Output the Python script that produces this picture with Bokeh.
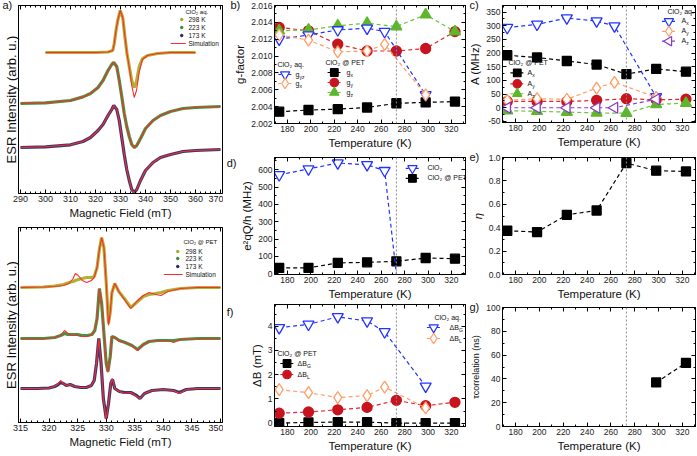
import math
from bokeh.plotting import figure
from bokeh.layouts import row, column
from bokeh.models import (Range1d, SingleIntervalTicker, FixedTicker, LinearAxis, Span,
                          Label, PrintfTickFormatter, Title)
from bokeh.embed import file_html
from bokeh.resources import INLINE

FONT = "Liberation Sans"

# ---------------- panel a data (ESR spectra, arb. units relative to baseline) -------------
f_aq298 = [300, 310, 320, 325, 326.9, 327.5, 328.2, 328.9, 329.9, 330.9, 331.8, 332.6, 333.5,
           334.5, 335.5, 336.4, 337.5, 338.8, 340.8, 344.8, 350, 360]
dat_aq298 = [0, 0, 0, 0.5, 2, 9, 22, 32, 42, 35, 15, -1, -14, -28, -35, -29, -14, -6, -3, -1, 0, 0]
sim_aq298 = [0, 0, 0, 0.5, 2, 9, 22, 32, 42, 35, 15, -1, -15, -33, -45, -38, -19, -7, -3, -1, 0, 0]

f_aqlow = [290, 300, 310, 315, 318, 321, 323, 325, 326.5, 327.3, 328.5, 329.5, 330.5, 331.5,
           332.5, 333.5, 334.5, 335.5, 336.5, 338, 340, 343, 346, 350, 355, 360, 370]
dat_aq223 = [0, 0.6, 3, 6.6, 10, 16, 23, 33, 39, 41, 37, 23, 7, -10, -23, -33, -41, -44, -42,
             -35, -25, -17, -12, -8, -5, -4, -3]
sim_aq223 = [0, 0.6, 3, 6.6, 10, 16, 23, 33, 39, 41, 37, 23, 7, -10, -23, -33, -41, -44.5, -42,
             -35, -25, -17, -12, -8, -5, -4, -3]
dat_aq173 = [0, 0.7, 2.7, 6, 10, 17, 23, 32, 38, 42, 38, 27, 10, -7, -22, -33, -42, -45, -42,
             -33, -23, -15, -10, -7, -4, -3, -2]
sim_aq173 = [0, 0.7, 2.7, 6, 10, 17, 23, 32, 38, 42, 38, 27, 10, -7, -22, -33, -42, -45.5, -42,
             -33, -23, -15, -10, -7, -4, -3, -2]
base_aq = [141, 90, 46]          # vertical stacking of 298 K, 223 K, 173 K

f_pet298 = [315, 319, 321, 322.5, 323.5, 324.2, 324.6, 325.1, 325.8, 326.6, 327.4, 327.9, 328.4,
            328.8, 329.2, 329.6, 330.0, 330.4, 330.7, 331.0, 331.5, 332.2, 333.3, 334.3, 335.5,
            336.5, 337.5, 338.6, 339.6, 340.8, 343, 346, 350]
sim_pet298 = [0, 0.5, 1, 2, 4, 9, 14, 12, 7, 5, 7, 10, 20, 38, 50, 40, 5, -38, -25, -5, 4, -4,
              -13, -21, -13, -8, -5, -7, -8, -4, -1, 0, 0]
dat_pet298 = [0, 0.5, 1.5, 3, 5, 6, 7, 8, 9, 10, 10, 11, 20, 38, 50, 40, 5, -36, -25, -5, 4, -4,
              -12, -20, -14, -9, -7, -6, -5, -3, -1, 0, 0]
f_pet223 = [315, 319, 321, 322, 322.7, 323.3, 324, 325, 325.8, 326.7, 327.5, 328.0, 328.4, 328.8,
            329.2, 329.6, 330.0, 330.3, 330.7, 331.0, 331.5, 332.3, 333.3, 334.5, 335.5, 336.5,
            337.5, 339, 340.8, 341.8, 343, 346, 350]
sim_pet223 = [0, 0, 1, 3, 8, 5, 3, 3, 2, 2, 4, 8, 20, 50, 35, 5, -25, -34, -18, 2, 1, -3, -4, -7,
              -12, -6, -3, -2, -2, -4, -1, 0, 0]
dat_pet223 = [0, 0, 1, 3, 5, 4, 4, 4, 3, 3, 4, 8, 20, 50, 35, 5, -25, -33, -18, 2, 1, -2, -4, -7,
              -11, -6, -3, -2, -2, -2, -1, 0, 0]
f_pet173 = [315, 318, 320, 321, 321.6, 322.0, 322.5, 323.0, 323.7, 324.5, 325.5, 326.5, 327.4,
            327.9, 328.3, 328.7, 329.1, 329.5, 330.0, 330.4, 330.8, 331.1, 331.5, 332.3, 333.2,
            334.3, 335.3, 335.9, 336.7, 338, 340, 341.8, 342.8, 344, 346, 350]
sim_pet173 = [0, 0, 0.5, 2, 5, 8, 5, 3, 4, 2, 1, 1, 3, 8, 25, 50, 25, -10, -31, -15, 5, 10, 0,
              -3, -5, -4, -8, -10, -5, -2, -1, -2, -5, -1, 0, 0]
dat_pet173 = [0, 0, 0.5, 2, 4, 6, 5, 3, 4, 2, 1, 1, 3, 8, 25, 50, 25, -10, -30, -15, 5, 9, 0,
              -3, -4, -4, -7, -10, -5, -2, -1, -2, -4, -1, 0, 0]
base_pet = [135, 84, 34]

temp_labels = ["298 K", "223 K", "173 K"]
temp_colors = ["#a8a820", "#2e8b2e", "#23235e"]

# ---------------- panels b-g data ----------------
T_aq = [173, 198, 223, 248, 263, 298]
T_pet = [173, 198, 223, 248, 273, 298, 323]
T_melt = 273

g_aq_1 = [2.0120, 2.0125, 2.0131, 2.0133, 2.0129, 2.0054]
g_aq_2 = [2.0125, 2.0119, 2.0105, 2.0106, 2.0114, 2.0054]
g_pet_x = [2.0034, 2.0036, 2.0037, 2.0039, 2.0044, 2.0045, 2.0046]
g_pet_y = [2.0134, 2.0130, 2.0114, 2.0106, 2.0106, 2.0109, 2.0129]
g_pet_z = [2.0130, 2.0131, 2.0136, 2.0139, 2.0135, 2.0149, 2.0129]

A_aq_x = [293, 305, 328, 317, 299, 40]
A_aq_y = [27, 33, 31, 72, 93, 38]
A_aq_z = [0, 0, 0, 0, 0, 31]
A_pet_x = [192, 184, 171, 158, 123, 142, 132]
A_pet_y = [23, 23, 23, 27, 33, 29, 31]
A_pet_z = [-11, -13, -16, -19, -20, 12, 17]

T_Q_aq = [173, 198, 223, 248, 263]
Q_aq = [570, 604, 638, 628, 594]
T_Q_aq_line = [173, 198, 223, 248, 263, 273]
Q_aq_line = [570, 604, 638, 628, 594, 0]
Q_pet = [34, 34, 63, 66, 72, 91, 87]

eta_pet = [0.374, 0.363, 0.51, 0.547, 0.952, 0.887, 0.881]

dB_aq_G = [3.94, 4.08, 4.39, 4.22, 3.77, 1.52]
dB_aq_L = [1.38, 1.26, 1.05, 1.14, 1.49, 0.63]
dB_pet_G = [0.0, 0.03, 0.04, 0.04, 0.0, 0.0, 0.0]
dB_pet_L = [0.41, 0.46, 0.55, 0.65, 0.94, 0.72, 0.86]

T_tau = [298, 323]
tau_pet = [37, 53.4]

BLUE, ORANGE, PURPLE = "#2233ff", "#ff9e66", "#8a3cc8"
BLACK, RED, GREEN = "#000000", "#c8141e", "#5cb82a"
RED_LINE, GREEN_LINE = "#e0262e", "#6cc43a"
SIM_RED = "#ff2b2b"

ST_BLUE = dict(c=BLUE, lc=BLUE, m="inverted_triangle", s=11, f="white", a=0)
ST_ORANGE = dict(c=ORANGE, lc=ORANGE, m="diamond", s=12, f="white", a=0)
ST_PURPLE = dict(c=PURPLE, lc=PURPLE, m="triangle", s=11, f="white", a=math.pi / 2)
ST_BLACK = dict(c=BLACK, lc=BLACK, m="square", s=9, f=BLACK, a=0)
ST_RED = dict(c=RED, lc=RED_LINE, m="circle", s=10, f=RED, a=0)
ST_GREEN = dict(c=GREEN, lc=GREEN_LINE, m="triangle", s=11, f=GREEN, a=0)

MAIN_W7 = {"g": 3.9, "A": 4.7, "ΔB": 9.4}


def style_axis(ax, tick_size="8.5px"):
    ax.axis_line_color = "black"
    ax.major_tick_in = 4
    ax.major_tick_out = 0
    ax.minor_tick_in = 2
    ax.minor_tick_out = 0
    ax.major_label_text_font = FONT
    ax.major_label_text_font_size = tick_size
    ax.major_label_text_color = "#222222"
    ax.major_label_standoff = 2
    ax.axis_label_text_font = FONT
    ax.axis_label_text_font_size = "11.5px"
    ax.axis_label_text_font_style = "normal"
    ax.axis_label_text_color = "#111111"
    ax.axis_label_standoff = 2


def mirror(p, ticker, side):
    ax = LinearAxis(ticker=ticker)
    style_axis(ax)
    ax.major_label_text_font_size = "1px"
    ax.major_label_text_color = None
    ax.major_label_standoff = 0
    p.add_layout(ax, side)


def text_axis(p, ticks, fmt, size, standoff):
    """axis without line/ticks, used only to place a panel letter left of the frame"""
    ax = LinearAxis(ticker=FixedTicker(ticks=ticks))
    ax.formatter = PrintfTickFormatter(format=fmt)
    ax.axis_line_color = None
    ax.major_tick_line_color = None
    ax.minor_tick_line_color = None
    ax.major_tick_in = 0
    ax.major_tick_out = 0
    ax.major_label_standoff = standoff
    ax.major_label_text_font = FONT
    ax.major_label_text_font_size = size
    ax.major_label_text_color = "#111111"
    p.add_layout(ax, "left")


def letter_title(p, text, offset):
    p.add_layout(Title(text=text, align="left", offset=offset, standoff=-11,
                       vertical_align="bottom", text_font=FONT, text_font_size="11px",
                       text_font_style="normal", text_color="#111111"), "above")


def make_fig(w, h, l, r, t, b, xr, yr):
    p = figure(width=w, height=h, x_range=Range1d(*xr), y_range=Range1d(*yr),
               output_backend="svg", toolbar_location=None,
               min_border_left=l, min_border_right=r, min_border_top=t, min_border_bottom=b)
    p.grid.visible = False
    p.outline_line_color = "black"
    p.outline_line_width = 1
    p.background_fill_color = "white"
    p.border_fill_color = "white"
    p.extra_x_ranges = {"px": Range1d(0, w - l - r)}
    p.extra_y_ranges = {"py": Range1d(0, h - t - b)}
    return p


def lab(p, x, y, text, size="7px", **kw):
    p.add_layout(Label(x=x, y=y, x_units="screen", y_units="screen", text=text,
                       text_font=FONT, text_font_size=size, text_color="#111111",
                       text_baseline="middle", **kw))


def key_rows(p, geo, x0, gw, tx, rows, entries, font="7px"):
    FL, FB = geo
    for (main, sub, st), ys in zip(entries, rows):
        yy = FB - ys
        p.line([x0 - FL, x0 + gw - FL], [yy, yy], x_range_name="px", y_range_name="py",
               line_color=st["lc"], line_dash="3 2", line_width=1.2)
        p.scatter([x0 + gw / 2 - FL], [yy], x_range_name="px", y_range_name="py",
                  marker=st["m"], size=st["s"] * 0.85, fill_color=st["f"], line_color=st["c"],
                  line_width=1.2, angle=st["a"])
        lab(p, tx - FL, yy, main, size=font)
        if sub:
            lab(p, tx - FL + MAIN_W7.get(main, 0), yy - 2, sub, size="5px")


def series(p, T, v, st, lT=None, lv=None):
    p.line(lT if lT is not None else T, lv if lv is not None else v,
           line_color=st["lc"], line_dash="4 3", line_width=1.2)
    p.scatter(T, v, marker=st["m"], size=st["s"], fill_color=st["f"], line_color=st["c"],
              line_width=1.3, angle=st["a"])


def tfig(w, h, l, r, t, b, xr, yr, yint, ylabel, yfmt):
    p = make_fig(w, h, l, r, t, b, xr, yr)
    xt = SingleIntervalTicker(interval=20, num_minor_ticks=2)
    yt = SingleIntervalTicker(interval=yint, num_minor_ticks=2)
    p.xaxis.ticker = xt
    p.yaxis.ticker = yt
    p.yaxis.formatter = PrintfTickFormatter(format=yfmt)
    style_axis(p.xaxis[0])
    style_axis(p.yaxis[0])
    p.xaxis.axis_label = "Temperature (K)"
    p.yaxis.axis_label = ylabel
    mirror(p, xt, "above")
    mirror(p, yt, "right")
    p.add_layout(Span(location=T_melt, dimension="height", line_color="#8c8c8c",
                      line_dash="2 2", line_width=1))
    return p


def spectrum(p, f, dat, sim, base, color):
    p.line(f, [base + v for v in dat], line_color=color, line_width=3.2, line_alpha=0.9)
    p.line(f, [base + v for v in sim], line_color=SIM_RED, line_width=1.1)


def spec_legend(p, geo, title_xy, rows, dot_x, line_x0, line_x1, tx):
    FL, FB = geo
    lab(p, title_xy[0] - FL, FB - title_xy[1], title_xy[2], size="6px")
    for lbl, col, ys in zip(temp_labels, temp_colors, rows[:3]):
        p.scatter([dot_x - FL], [FB - ys], x_range_name="px", y_range_name="py",
                  marker="circle", size=2.5, fill_color=col, line_color=col)
        lab(p, tx - FL, FB - ys, lbl, size="6.5px")
    p.line([line_x0 - FL, line_x1 - FL], [FB - rows[3]] * 2, x_range_name="px",
           y_range_name="py", line_color=SIM_RED, line_width=1.2)
    lab(p, tx - FL, FB - rows[3], "Simulation", size="6.5px")


# ---------------- panel a (top) ----------------
a1 = make_fig(223, 225, 17, 1, 5, 32, (289.2, 370.8), (0, 188))
xt_a1 = SingleIntervalTicker(interval=10, num_minor_ticks=5)
a1.xaxis.ticker = xt_a1
a1.yaxis.ticker = FixedTicker(ticks=[])
style_axis(a1.xaxis[0], "9px")
style_axis(a1.yaxis[0])
a1.xaxis.axis_label = "Magnetic Field (mT)"
a1.yaxis.axis_label = "ESR Intensity (arb. u.)"
a1.yaxis.axis_label_text_font_size = "13px"
a1.yaxis.axis_label_standoff = 0
mirror(a1, xt_a1, "above")
letter_title(a1, "a)", -16)
spectrum(a1, f_aq298, dat_aq298, sim_aq298, base_aq[0], temp_colors[0])
spectrum(a1, f_aqlow, dat_aq223, sim_aq223, base_aq[1], temp_colors[1])
spectrum(a1, f_aqlow, dat_aq173, sim_aq173, base_aq[2], temp_colors[2])
spec_legend(a1, (17, 193), (184, 11, "ClO₂ aq."), [19, 27, 35, 43], 181, 170, 185, 187)

# ---------------- panel a (bottom) ----------------
a2 = make_fig(223, 231, 17, 1, 2, 34, (314.65, 350.35), (0, 195))
xt_a2 = SingleIntervalTicker(interval=5, num_minor_ticks=5)
a2.xaxis.ticker = xt_a2
a2.yaxis.ticker = FixedTicker(ticks=[])
style_axis(a2.xaxis[0], "9px")
style_axis(a2.yaxis[0])
a2.xaxis.axis_label = "Magnetic Field (mT)"
a2.yaxis.axis_label = "ESR Intensity (arb. u.)"
a2.yaxis.axis_label_text_font_size = "13px"
a2.yaxis.axis_label_standoff = 0
mirror(a2, xt_a2, "above")
spectrum(a2, f_pet298, dat_pet298, sim_pet298, base_pet[0], temp_colors[0])
spectrum(a2, f_pet223, dat_pet223, sim_pet223, base_pet[1], temp_colors[1])
spectrum(a2, f_pet173, dat_pet173, sim_pet173, base_pet[2], temp_colors[2])
spec_legend(a2, (17, 422), (182, 241, "ClO₂ @ PET"), [251, 258, 266, 274], 177, 163, 182, 184)

# ---------------- panel b ----------------
pb = tfig(243, 153, 44, 1, 5, 30, (169, 332), (2.002, 2.016), 0.002, "g-factor", "%.3f")
letter_title(pb, "b)", -44)
series(pb, T_pet, g_pet_x, ST_BLACK)
series(pb, T_pet, g_pet_y, ST_RED)
series(pb, T_pet, g_pet_z, ST_GREEN)
series(pb, T_aq, g_aq_1, ST_BLUE)
series(pb, T_aq, g_aq_2, ST_ORANGE)
geo_b = (267, 123)
lab(pb, 270 - 267, 123 - 64, "ClO₂ aq.")
key_rows(pb, geo_b, 271, 14, 288, [74, 83], [("g", "yz", ST_BLUE), ("g", "x", ST_ORANGE)])
lab(pb, 318 - 267, 123 - 62, "ClO₂ @ PET")
key_rows(pb, geo_b, 322, 14, 339, [72, 82, 92],
         [("g", "x", ST_BLACK), ("g", "y", ST_RED), ("g", "z", ST_GREEN)])

# ---------------- panel c ----------------
pc = tfig(231, 150, 33, 2, 5, 27, (169, 331), (-54, 374), 50, "A (MHz)", "%d")
letter_title(pc, "c)", -33)
series(pc, T_pet, A_pet_x, ST_BLACK)
series(pc, T_pet, A_pet_y, ST_RED)
series(pc, T_pet, A_pet_z, ST_GREEN)
series(pc, T_aq, A_aq_x, ST_BLUE)
series(pc, T_aq, A_aq_y, ST_ORANGE)
series(pc, T_aq, A_aq_z, ST_PURPLE)
geo_c = (499, 123)
lab(pc, 664 - 499, 123 - 12, "ClO₂ aq.")
key_rows(pc, geo_c, 661, 14, 678, [21, 31, 41],
         [("A", "x", ST_BLUE), ("A", "y", ST_ORANGE), ("A", "z", ST_PURPLE)])
lab(pc, 505 - 499, 123 - 63, "ClO₂ @ PET")
key_rows(pc, geo_c, 507, 14, 524, [73, 84, 94],
         [("A", "x", ST_BLACK), ("A", "y", ST_RED), ("A", "z", ST_GREEN)])

# ---------------- panel d ----------------
pd_ = tfig(243, 149, 44, 1, 4, 27, (169, 332), (-4, 670), 100, "e²qQ/h (MHz)", "%d")
series(pd_, T_pet, Q_pet, ST_BLACK)
series(pd_, T_Q_aq, Q_aq, ST_BLUE, lT=T_Q_aq_line, lv=Q_aq_line)
key_rows(pd_, (267, 275), 403, 14, 420, [168, 178],
         [("ClO₂", "", ST_BLUE), ("ClO₂ @ PET", "", ST_BLACK)])
text_axis(pd_, [635.7], "d)", "11px", 2)

# ---------------- panel e ----------------
pe = tfig(231, 152, 33, 2, 7, 28, (169, 331), (0, 1.0), 0.2, "η", "%.1f")
pe.yaxis[0].axis_label_text_font_style = "italic"
letter_title(pe, "e)", -33)
series(pe, T_pet, eta_pet, ST_BLACK)

# ---------------- panel f ----------------
pf = tfig(243, 154, 44, 1, 2, 30, (169, 332), (-0.14, 4.9), 1, "ΔB (mT)", "%d")
series(pf, T_pet, dB_pet_G, ST_BLACK)
series(pf, T_pet, dB_pet_L, ST_RED)
series(pf, T_aq, dB_aq_G, ST_BLUE)
series(pf, T_aq, dB_aq_L, ST_ORANGE)
geo_f = (267, 426)
lab(pf, 427 - 267, 426 - 317, "ClO₂ aq.")
key_rows(pf, geo_f, 425, 14, 442, [327, 338], [("ΔB", "G", ST_BLUE), ("ΔB", "L", ST_ORANGE)])
lab(pf, 270 - 267, 426 - 353, "ClO₂ @ PET")
key_rows(pf, geo_f, 273, 14, 290, [363, 374], [("ΔB", "G", ST_BLACK), ("ΔB", "L", ST_RED)])
text_axis(pf, [4.86], "f)", "11px", 14)

# ---------------- panel g ----------------
pg = tfig(231, 154, 33, 2, 5, 30, (169, 331), (0, 100), 20, "τcorrelation (ns)", "%d")
pg.yaxis[0].axis_label_text_font_size = "9px"
letter_title(pg, "g)", -33)
series(pg, T_tau, tau_pet, ST_BLACK)

layout = row(column(a1, a2), column(pb, pd_, pf), column(pc, pe, pg))
open("out.html", "w").write(file_html(layout, INLINE))
